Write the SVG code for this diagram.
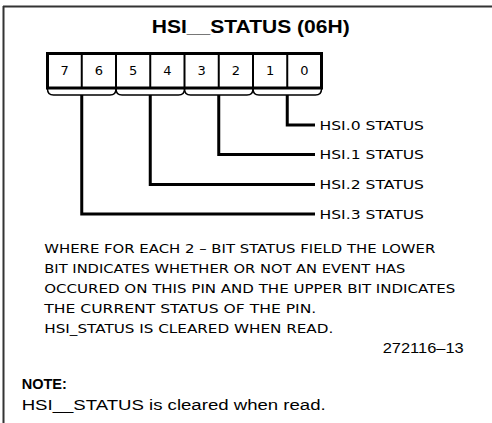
<svg xmlns="http://www.w3.org/2000/svg" width="492" height="423" viewBox="0 0 492 423">
<style>
.frame{stroke:#333;stroke-width:2;fill:none}
.reg{fill:#fff;stroke:#000;stroke-width:3}
.div{stroke:#000;stroke-width:2}
.brace{fill:none;stroke:#000;stroke-width:1.5}
.conn{fill:none;stroke:#000;stroke-width:3;stroke-linejoin:miter}
.dig{font-family:"DejaVu Sans",sans-serif;font-size:13px;text-anchor:middle;fill:#000}
.lbl{font-family:"DejaVu Sans",sans-serif;font-size:12.5px;fill:#000}
.body{font-family:"DejaVu Sans",sans-serif;font-size:13px;fill:#000}
.title{font-family:"Liberation Sans",Arial,sans-serif;font-size:17.5px;font-weight:bold;fill:#000}
.sans{font-family:"Liberation Sans",Arial,sans-serif;fill:#000}
</style>
<line class="frame" x1="3" y1="6.5" x2="492" y2="6.5"/>
<line class="frame" x1="3.5" y1="6" x2="3.5" y2="423"/>
<text class="title" x="151.7" y="33" textLength="198" lengthAdjust="spacingAndGlyphs">HSI__STATUS (06H)</text>
<g id="register">
<rect class="reg" x="47.5" y="53.5" width="274" height="34.5"/>
<line class="div" x1="81.75" y1="53.5" x2="81.75" y2="88"/>
<line class="div" x1="116" y1="53.5" x2="116" y2="88"/>
<line class="div" x1="150.25" y1="53.5" x2="150.25" y2="88"/>
<line class="div" x1="184.5" y1="53.5" x2="184.5" y2="88"/>
<line class="div" x1="218.75" y1="53.5" x2="218.75" y2="88"/>
<line class="div" x1="253" y1="53.5" x2="253" y2="88"/>
<line class="div" x1="287.25" y1="53.5" x2="287.25" y2="88"/>
<text class="dig" x="64.6" y="75">7</text>
<text class="dig" x="98.9" y="75">6</text>
<text class="dig" x="133.1" y="75">5</text>
<text class="dig" x="167.4" y="75">4</text>
<text class="dig" x="201.6" y="75">3</text>
<text class="dig" x="235.9" y="75">2</text>
<text class="dig" x="270.1" y="75">1</text>
<text class="dig" x="304.4" y="75">0</text>
<path class="brace" d="M47.5,89 Q47.5,95 53.5,95 H110 Q116,95 116,89"/>
<path class="brace" d="M116,89 Q116,95 122,95 H178.5 Q184.5,95 184.5,89"/>
<path class="brace" d="M184.5,89 Q184.5,95 190.5,95 H247 Q253,95 253,89"/>
<path class="brace" d="M253,89 Q253,95 259,95 H315.5 Q321.5,95 321.5,89"/>
</g>
<g id="connectors">
<path class="conn" d="M287.25,95 V125 H315"/>
<path class="conn" d="M218.75,95 V154.5 H315"/>
<path class="conn" d="M150.25,95 V184.5 H315"/>
<path class="conn" d="M81.75,95 V214 H315"/>
</g>
<g id="hsi0"><text class="lbl" x="319.5" y="129.5" textLength="104.5" lengthAdjust="spacingAndGlyphs">HSI.0 STATUS</text></g>
<g id="hsi1"><text class="lbl" x="319.5" y="159" textLength="104.5" lengthAdjust="spacingAndGlyphs">HSI.1 STATUS</text></g>
<g id="hsi2"><text class="lbl" x="319.5" y="189" textLength="104.5" lengthAdjust="spacingAndGlyphs">HSI.2 STATUS</text></g>
<g id="hsi3"><text class="lbl" x="319.5" y="218.5" textLength="104.5" lengthAdjust="spacingAndGlyphs">HSI.3 STATUS</text></g>
<g id="description">
<text class="body" x="44.3" y="252.7" textLength="391" lengthAdjust="spacingAndGlyphs">WHERE FOR EACH 2 – BIT STATUS FIELD THE LOWER</text>
<text class="body" x="44.3" y="272.7" textLength="361" lengthAdjust="spacingAndGlyphs">BIT INDICATES WHETHER OR NOT AN EVENT HAS</text>
<text class="body" x="44.3" y="293" textLength="411" lengthAdjust="spacingAndGlyphs">OCCURED ON THIS PIN AND THE UPPER BIT INDICATES</text>
<text class="body" x="44.3" y="313" textLength="272" lengthAdjust="spacingAndGlyphs">THE CURRENT STATUS OF THE PIN.</text>
<text class="body" x="44.3" y="332.7" textLength="289" lengthAdjust="spacingAndGlyphs">HSI_STATUS IS CLEARED WHEN READ.</text>
</g>
<text class="sans" x="382.7" y="353" font-size="15" textLength="81" lengthAdjust="spacingAndGlyphs">272116–13</text>
<g id="note">
<text class="sans" x="21.7" y="388.5" font-size="14.5" font-weight="bold">NOTE:</text>
<text class="sans" x="21.7" y="410" font-size="15.5" textLength="304" lengthAdjust="spacingAndGlyphs">HSI__STATUS is cleared when read.</text>
</g>
</svg>
